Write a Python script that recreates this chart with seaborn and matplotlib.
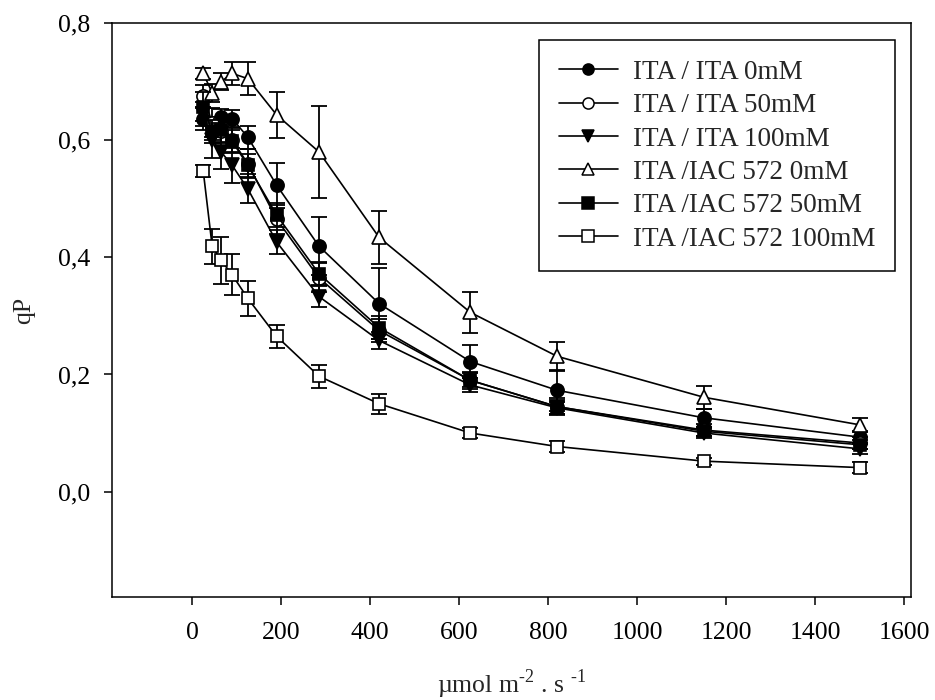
import matplotlib
matplotlib.use('Agg')
import matplotlib.pyplot as plt
import seaborn as sns
from matplotlib.lines import Line2D

# light intensity (x) shared by all series
ppfd = [25, 45, 65, 90, 125, 190, 285, 420, 625, 820, 1150, 1500]

labels = ['ITA / ITA 0mM', 'ITA / ITA 50mM', 'ITA / ITA 100mM',
          'ITA /IAC 572 0mM', 'ITA /IAC 572 50mM', 'ITA /IAC 572 100mM']

ita_0 = [0.637, 0.620, 0.639, 0.637, 0.605, 0.523, 0.419, 0.321, 0.222, 0.173, 0.126, 0.093]
ita_0_err = [0.020, 0.020, 0.015, 0.015, 0.020, 0.038, 0.050, 0.060, 0.028, 0.035, 0.015, 0.010]

ita_50 = [0.675, 0.630, 0.615, 0.600, 0.560, 0.465, 0.365, 0.275, 0.190, 0.145, 0.105, 0.083]
ita_50_err = [0.020, 0.025, 0.020, 0.020, 0.025, 0.025, 0.025, 0.020, 0.015, 0.015, 0.010, 0.010]

ita_100 = [0.645, 0.600, 0.580, 0.557, 0.517, 0.426, 0.333, 0.258, 0.182, 0.143, 0.100, 0.073]
ita_100_err = [0.020, 0.030, 0.030, 0.030, 0.025, 0.020, 0.018, 0.015, 0.012, 0.010, 0.008, 0.008]

iac_0 = [0.714, 0.681, 0.700, 0.714, 0.705, 0.643, 0.580, 0.434, 0.306, 0.231, 0.161, 0.114]
iac_0_err = [0.010, 0.015, 0.015, 0.020, 0.028, 0.040, 0.078, 0.045, 0.035, 0.025, 0.020, 0.012]

iac_50 = [0.657, 0.615, 0.617, 0.598, 0.557, 0.472, 0.372, 0.280, 0.190, 0.145, 0.103, 0.080]
iac_50_err = [0.025, 0.020, 0.020, 0.020, 0.020, 0.020, 0.020, 0.020, 0.012, 0.012, 0.008, 0.008]

iac_100 = [0.547, 0.419, 0.395, 0.370, 0.330, 0.265, 0.197, 0.150, 0.100, 0.077, 0.052, 0.041]
iac_100_err = [0.010, 0.030, 0.040, 0.035, 0.030, 0.020, 0.020, 0.017, 0.008, 0.010, 0.006, 0.010]

values = [ita_0, ita_50, ita_100, iac_0, iac_50, iac_100]
errors = [ita_0_err, ita_50_err, ita_100_err, iac_0_err, iac_50_err, iac_100_err]
markers = ['o', 'o', 'v', '^', 's', 's']
faces = ['black', 'white', 'black', 'white', 'black', 'white']
sizes = [9.5, 9.5, 10, 10, 8.5, 8.5]

sns.set_style('ticks')
plt.rcParams['font.family'] = ['Liberation Serif', 'DejaVu Serif']
plt.rcParams['mathtext.fontset'] = 'custom'
plt.rcParams['mathtext.rm'] = 'Liberation Serif'

fig = plt.figure(figsize=(9.35, 7), dpi=100)
ax = fig.add_axes([0.1198, 0.1471, 0.8545, 0.82])

for y, e, m, fc, ms in zip(values, errors, markers, faces, sizes):
    ax.errorbar(ppfd, y, yerr=e, fmt='none', ecolor='black',
                elinewidth=1.3, capsize=6, capthick=1.3)
    sns.lineplot(x=ppfd, y=y, ax=ax, color='black', linewidth=1.2,
                 marker=m, markersize=ms, markerfacecolor=fc,
                 markeredgecolor='black', markeredgewidth=1.2, legend=False)

ax.set_xlim(-180, 1615)
ax.set_ylim(-0.18, 0.8)
ax.set_xticks(range(0, 1601, 200))
ax.set_yticks([0.0, 0.2, 0.4, 0.6, 0.8])
ax.set_yticklabels(['0,0', '0,2', '0,4', '0,6', '0,8'])

for s in ax.spines.values():
    s.set_linewidth(1.1)
    s.set_color('black')
ax.tick_params(axis='x', direction='out', length=6, width=1.1, pad=12,
               labelsize=18.5, colors='black')
ax.tick_params(axis='y', direction='out', length=6, width=1.1, pad=10,
               labelsize=18.5, colors='black')

ax.set_xlabel(r'µmol m$^{\mathrm{\text{-}2}}$ . s $^{\mathrm{\text{-}1}}$', fontsize=18.5, labelpad=17)
ax.set_ylabel('qP', fontsize=18.5, labelpad=16)

handles = [Line2D([], [], color='black', linewidth=1.2, marker=m, markersize=8,
                  markerfacecolor=fc, markeredgecolor='black', markeredgewidth=1.1)
           for m, fc in zip(markers, faces)]
leg = ax.legend(handles, labels, loc='upper right', bbox_to_anchor=(0.98, 0.97),
                borderaxespad=0, fontsize=19.5, handlelength=2.2, handletextpad=0.55,
                labelspacing=0.31, borderpad=0.72, fancybox=False, framealpha=1,
                edgecolor='black')
leg.get_frame().set_linewidth(1.1)

fig.savefig('out.png', dpi=100)
